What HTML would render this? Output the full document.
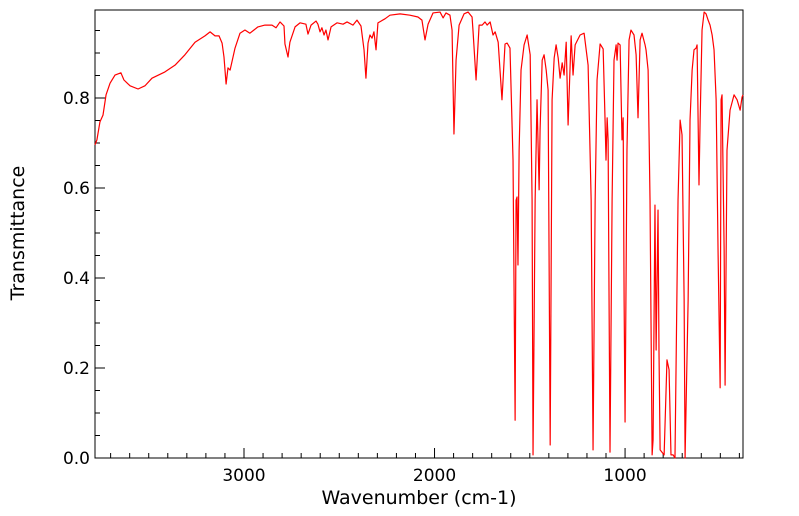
<!DOCTYPE html>
<html><head><meta charset="utf-8"><style>
html,body{margin:0;padding:0;background:#fff;}
svg{display:block;font-family:"DejaVu Sans","Liberation Sans",sans-serif;}
</style></head><body>
<svg id="chart" width="799" height="516">
<rect x="95" y="10" width="648" height="448" fill="#fff" stroke="#000" stroke-width="1"/>
<g id="xticks"></g>
<g id="yticks"></g>
<path id="spec" fill="none" stroke="#ff0000" stroke-width="1.2" stroke-linejoin="round"/>
<text x="419" y="504" text-anchor="middle" font-size="19">Wavenumber (cm-1)</text>
<text transform="translate(24,233) rotate(-90)" text-anchor="middle" font-size="19">Transmittance</text>
</svg>
<script>
const wavenumbers=[3782,3772,3756,3740,3724,3703,3677,3646,3630,3598,3556,3520,3483,3415,3362,3310,3257,3205,3178,3152,3131,3115,3105,3094,3084,3073,3047,3021,2995,2969,2927,2890,2853,2832,2811,2790,2785,2769,2759,2732,2706,2675,2664,2648,2622,2612,2601,2591,2580,2570,2559,2543,2512,2480,2459,2428,2407,2386,2370,2360,2349,2339,2328,2318,2307,2297,2260,2234,2181,2129,2087,2066,2050,2034,2008,1971,1955,1940,1919,1908,1898,1887,1871,1845,1824,1803,1798,1782,1766,1750,1735,1724,1708,1693,1682,1666,1646,1630,1619,1604,1588,1577,1572,1567,1562,1556,1546,1530,1514,1498,1488,1483,1472,1462,1451,1446,1435,1425,1414,1404,1393,1383,1372,1362,1351,1341,1330,1320,1309,1299,1283,1273,1262,1236,1215,1194,1178,1168,1157,1147,1131,1115,1105,1100,1094,1089,1084,1079,1068,1058,1047,1042,1037,1026,1016,1010,1005,1000,990,979,969,953,942,932,921,911,895,890,879,869,858,853,843,837,827,822,816,795,780,769,759,748,738,722,711,701,690,685,669,659,648,638,627,622,612,606,596,585,575,564,554,543,533,522,512,501,496,491,480,475,465,449,428,412,396,386,381];
const transmittance=[0.696,0.707,0.747,0.762,0.807,0.833,0.851,0.856,0.84,0.827,0.82,0.827,0.844,0.858,0.873,0.896,0.924,0.938,0.947,0.938,0.938,0.922,0.891,0.831,0.867,0.862,0.911,0.944,0.951,0.944,0.958,0.962,0.962,0.956,0.969,0.96,0.92,0.891,0.924,0.958,0.967,0.964,0.942,0.962,0.971,0.964,0.947,0.956,0.94,0.951,0.929,0.958,0.967,0.964,0.969,0.962,0.973,0.96,0.907,0.844,0.922,0.94,0.933,0.947,0.907,0.967,0.976,0.984,0.987,0.984,0.98,0.973,0.929,0.964,0.989,0.991,0.978,0.989,0.984,0.951,0.72,0.884,0.962,0.987,0.991,0.98,0.949,0.84,0.962,0.962,0.969,0.962,0.969,0.94,0.947,0.924,0.796,0.92,0.922,0.911,0.662,0.084,0.573,0.58,0.429,0.684,0.862,0.918,0.94,0.896,0.573,0.007,0.573,0.796,0.596,0.729,0.884,0.896,0.862,0.818,0.029,0.796,0.889,0.918,0.889,0.844,0.878,0.851,0.924,0.74,0.938,0.851,0.918,0.94,0.944,0.873,0.573,0.018,0.573,0.84,0.92,0.909,0.751,0.662,0.756,0.707,0.351,0.013,0.573,0.884,0.918,0.884,0.922,0.918,0.707,0.756,0.351,0.08,0.684,0.929,0.951,0.94,0.896,0.756,0.929,0.944,0.918,0.907,0.862,0.573,0.007,0.04,0.562,0.24,0.551,0.24,0.018,0.007,0.218,0.196,0.007,0.007,0,0.573,0.751,0.718,0.351,0,0.351,0.751,0.862,0.907,0.911,0.918,0.607,0.751,0.951,0.991,0.987,0.973,0.962,0.94,0.907,0.796,0.462,0.156,0.796,0.807,0.462,0.162,0.684,0.773,0.807,0.796,0.773,0.802,0.807];
const xTickLabels=[3000,2000,1000];
const yTickLabels=[0.0,0.2,0.4,0.6,0.8];
const NS="http://www.w3.org/2000/svg";
const X0=95,X1=743,WN0=3782,WN1=381,Y0=458,YS=450;
function xs(w){return X0+(WN0-w)/(WN0-WN1)*(X1-X0);}
function ys(t){return Y0-t*YS;}
let d="";
for(let i=0;i<wavenumbers.length;i++){d+=(i?"L":"M")+xs(wavenumbers[i]).toFixed(2)+","+ys(transmittance[i]).toFixed(2);}
document.getElementById('spec').setAttribute('d',d);
const xg=document.getElementById('xticks');
for(let w=3700;w>=400;w-=100){
  const major=w%1000===0;
  const l=document.createElementNS(NS,'line');
  l.setAttribute('x1',xs(w));l.setAttribute('x2',xs(w));
  l.setAttribute('y1',Y0);l.setAttribute('y2',Y0-(major?10:5));
  l.setAttribute('stroke','#000');
  
  
  xg.appendChild(l);
}
xTickLabels.forEach(w=>{
  const t=document.createElementNS(NS,'text');
  t.setAttribute('x',xs(w));t.setAttribute('y',Y0+23);
  t.setAttribute('text-anchor','middle');t.setAttribute('font-size','17');
  t.textContent=w;
  
  
  xg.appendChild(t);
});
const yg=document.getElementById('yticks');
for(let k=0;k<=19;k++){
  const v=k*0.05;const major=k%4===0;
  const l=document.createElementNS(NS,'line');
  l.setAttribute('x1',X0);l.setAttribute('x2',X0+(major?10:5));
  l.setAttribute('y1',ys(v));l.setAttribute('y2',ys(v));
  l.setAttribute('stroke','#000');
  
  
  yg.appendChild(l);
}
yTickLabels.forEach(v=>{
  const t=document.createElementNS(NS,'text');
  t.setAttribute('x',X0-5);t.setAttribute('y',ys(v)+6);
  t.setAttribute('text-anchor','end');t.setAttribute('font-size','17');
  t.textContent=v.toFixed(1);
  
  
  yg.appendChild(t);
});
</script>
</body></html>
